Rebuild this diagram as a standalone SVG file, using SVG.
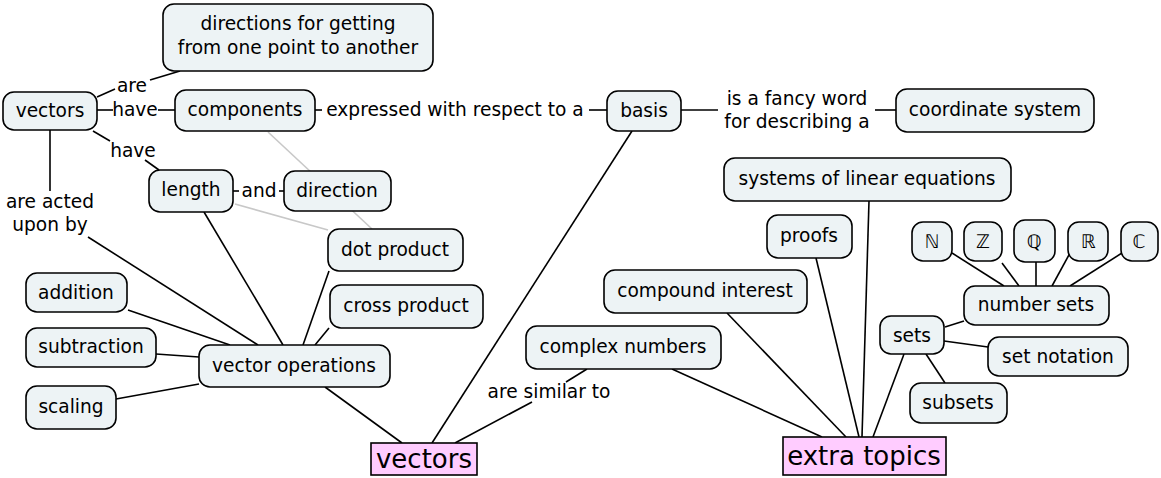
<svg xmlns="http://www.w3.org/2000/svg" width="1161" height="478" viewBox="0 0 1161 478">
<style>
.n rect{fill:#edf3f5;stroke:#000;stroke-width:1.6}
.r rect{fill:#ffccff;stroke:#000;stroke-width:1.6}
text{font-family:"DejaVu Sans",Verdana,sans-serif;font-size:18.6px;fill:#000;text-anchor:middle}
.r text{font-size:26px}
.c line{stroke:#000;stroke-width:1.6}
.c line.g{stroke:#c8c8c8}
</style>
<rect width="1161" height="478" fill="#fff"/>
<g class="c" id="connectors">
<line class="g" x1="268" y1="132" x2="372" y2="229"/>
<line class="g" x1="235" y1="204" x2="328" y2="230"/>
<line x1="97" y1="97" x2="115" y2="89"/>
<line x1="150" y1="80" x2="180" y2="71"/>
<line x1="97" y1="110" x2="113" y2="110"/>
<line x1="158" y1="110" x2="175" y2="110"/>
<line x1="93" y1="131" x2="110" y2="141"/>
<line x1="145" y1="160" x2="159" y2="170"/>
<line x1="50" y1="130" x2="50" y2="191"/>
<line x1="88" y1="237" x2="258" y2="345"/>
<line x1="204" y1="212" x2="283" y2="345"/>
<line x1="233" y1="191" x2="239" y2="191"/>
<line x1="279" y1="191" x2="284" y2="191"/>
<line x1="315" y1="110" x2="322" y2="110"/>
<line x1="589" y1="110" x2="607" y2="110"/>
<line x1="681" y1="110" x2="718" y2="110"/>
<line x1="875" y1="110" x2="896" y2="110"/>
<line x1="632" y1="131" x2="432" y2="443"/>
<line x1="587" y1="369" x2="566" y2="382"/>
<line x1="532" y1="402" x2="455" y2="443"/>
<line x1="325" y1="387" x2="402" y2="443"/>
<line x1="128" y1="310" x2="230" y2="345"/>
<line x1="156" y1="354" x2="199" y2="357"/>
<line x1="116" y1="399" x2="199" y2="384"/>
<line x1="329" y1="271" x2="303" y2="345"/>
<line x1="329" y1="328" x2="315" y2="345"/>
<line x1="727" y1="313" x2="846" y2="437"/>
<line x1="672" y1="369" x2="822" y2="437"/>
<line x1="816" y1="258" x2="859" y2="437"/>
<line x1="869" y1="201" x2="862" y2="437"/>
<line x1="904" y1="354" x2="873" y2="437"/>
<line x1="945" y1="327" x2="964" y2="321"/>
<line x1="944" y1="341" x2="988" y2="347"/>
<line x1="926" y1="354" x2="945" y2="383"/>
<line x1="952" y1="253" x2="1004" y2="286"/>
<line x1="1002" y1="263" x2="1019" y2="286"/>
<line x1="1036" y1="262" x2="1036" y2="286"/>
<line x1="1070" y1="253" x2="1052" y2="286"/>
<line x1="1122" y1="253" x2="1070" y2="286"/>
<text x="132" y="92">are</text>
<text x="135" y="116">have</text>
<text x="133" y="157">have</text>
<text x="50" y="208">are acted</text>
<text x="50" y="231">upon by</text>
<text x="259" y="197">and</text>
<text x="455" y="116">expressed with respect to a</text>
<text x="797" y="105">is a fancy word</text>
<text x="797" y="128">for describing a</text>
<text x="549" y="398">are similar to</text>
</g>
<g id="n-dirs" class="n"><rect x="163" y="4" width="270" height="67" rx="11"/><text x="298" y="30">directions for getting</text><text x="298" y="54">from one point to another</text></g>
<g id="n-vectors" class="n"><rect x="3" y="92" width="94" height="38" rx="11"/><text x="50" y="117">vectors</text></g>
<g id="n-components" class="n"><rect x="175" y="90" width="140" height="41" rx="11"/><text x="245" y="116">components</text></g>
<g id="n-length" class="n"><rect x="149" y="170" width="84" height="42" rx="11"/><text x="191" y="196">length</text></g>
<g id="n-direction" class="n"><rect x="284" y="171" width="107" height="40" rx="11"/><text x="337" y="197">direction</text></g>
<g id="n-dot" class="n"><rect x="328" y="229" width="135" height="42" rx="11"/><text x="395" y="256">dot product</text></g>
<g id="n-cross" class="n"><rect x="330" y="285" width="153" height="43" rx="11"/><text x="406" y="312">cross product</text></g>
<g id="n-addition" class="n"><rect x="26" y="273" width="101" height="39" rx="11"/><text x="76" y="299">addition</text></g>
<g id="n-subtraction" class="n"><rect x="26" y="328" width="130" height="39" rx="11"/><text x="91" y="353">subtraction</text></g>
<g id="n-scaling" class="n"><rect x="26" y="386" width="90" height="43" rx="11"/><text x="71" y="413">scaling</text></g>
<g id="n-vecops" class="n"><rect x="199" y="345" width="191" height="42" rx="11"/><text x="294" y="372">vector operations</text></g>
<g id="n-vectors-root" class="r"><rect x="371" y="443" width="106" height="32"/><text x="424" y="468">vectors</text></g>
<g id="n-basis" class="n"><rect x="607" y="91" width="74" height="40" rx="11"/><text x="644" y="117">basis</text></g>
<g id="n-coord" class="n"><rect x="896" y="89" width="198" height="43" rx="11"/><text x="995" y="116">coordinate system</text></g>
<g id="n-systems" class="n"><rect x="724" y="158" width="287" height="43" rx="11"/><text x="867" y="185">systems of linear equations</text></g>
<g id="n-proofs" class="n"><rect x="767" y="215" width="85" height="43" rx="11"/><text x="809" y="242">proofs</text></g>
<g id="n-compound" class="n"><rect x="604" y="270" width="203" height="43" rx="11"/><text x="705" y="297">compound interest</text></g>
<g id="n-complex" class="n"><rect x="526" y="326" width="195" height="43" rx="11"/><text x="623" y="353">complex numbers</text></g>
<g id="n-sets" class="n"><rect x="880" y="316" width="64" height="38" rx="11"/><text x="912" y="342">sets</text></g>
<g id="n-numsets" class="n"><rect x="964" y="286" width="145" height="39" rx="11"/><text x="1036" y="311">number sets</text></g>
<g id="n-setnot" class="n"><rect x="988" y="337" width="140" height="39" rx="11"/><text x="1058" y="363">set notation</text></g>
<g id="n-subsets" class="n"><rect x="910" y="383" width="97" height="40" rx="11"/><text x="958" y="409">subsets</text></g>
<g id="n-N" class="n"><rect x="912" y="222" width="40" height="39" rx="11"/><text x="932" y="248">ℕ</text></g>
<g id="n-Z" class="n"><rect x="964" y="222" width="38" height="39" rx="11"/><text x="983" y="248">ℤ</text></g>
<g id="n-Q" class="n"><rect x="1014" y="220" width="41" height="42" rx="11"/><text x="1034" y="248">ℚ</text></g>
<g id="n-R" class="n"><rect x="1068" y="222" width="40" height="39" rx="11"/><text x="1088" y="248">ℝ</text></g>
<g id="n-C" class="n"><rect x="1121" y="222" width="37" height="39" rx="11"/><text x="1139" y="248">ℂ</text></g>
<g id="n-extra" class="r"><rect x="783" y="437" width="163" height="38"/><text x="864" y="465">extra topics</text></g>
</svg>
